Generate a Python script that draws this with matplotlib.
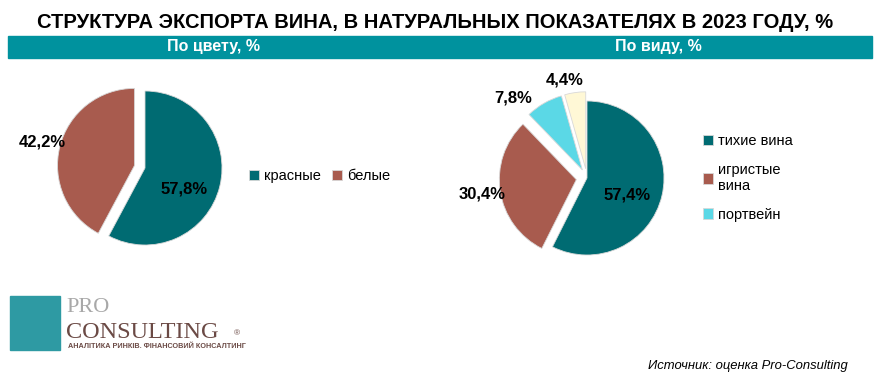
import matplotlib.pyplot as plt
from matplotlib.patches import Rectangle
import numpy as np

# данные
color_labels = ['красные', 'белые']
color_values = [57.8, 42.2]
type_labels = ['тихие вина', 'игристые\nвина', 'портвейн', 'прочее']
type_values = [57.4, 30.4, 7.8, 4.4]

plt.rcParams['font.family'] = ['Liberation Sans', 'DejaVu Sans']

W, H = 880, 380
fig = plt.figure(figsize=(8.8, 3.8), dpi=100)

def px(x, y):
    return x / W, 1 - y / H

# title
fig.text(*px(435, 22), 'СТРУКТУРА ЭКСПОРТА ВИНА, В НАТУРАЛЬНЫХ ПОКАЗАТЕЛЯХ В 2023 ГОДУ, %',
         ha='center', va='center', fontsize=14.5, fontweight='bold')
# teal band
fig.patches.append(Rectangle(px(8, 58), 864 / W, 22 / H, transform=fig.transFigure,
                             color='#00929E', zorder=0))
fig.text(*px(213, 46), 'По цвету, %', ha='center', va='center', color='white',
         fontsize=11.5, fontweight='bold')
fig.text(*px(658, 46), 'По виду, %', ha='center', va='center', color='white',
         fontsize=11.5, fontweight='bold')

cols = ['#006B72', '#A85B4E', '#5BD8E6', '#FFF8D6']
R = 77  # pie radius in px


def pie_axes(cx, cy):
    size = 2.8 * R
    ax = fig.add_axes([(cx - size / 2) / W, 1 - (cy + size / 2) / H, size / W, size / H])
    ax.axis('off')
    return ax


def fix_limits(ax):
    ax.set_xlim(-1.4, 1.4)
    ax.set_ylim(-1.4, 1.4)
    ax.set_aspect('equal')


def put_labels(ax, wedges, vals, rads, shifts):
    for w, v, r, s in zip(wedges, vals, rads, shifts):
        a = np.deg2rad((w.theta1 + w.theta2) / 2 + s)
        ax.text(r * np.cos(a), r * np.sin(a), f'{v:.1f}%'.replace('.', ','),
                ha='center', va='center', fontsize=12, fontweight='bold', clip_on=False)


# left pie
ax1 = pie_axes(145, 168)
w1, _ = ax1.pie(color_values, colors=cols[:2], startangle=90, counterclock=False,
                explode=[0, 0.14], radius=1,
                wedgeprops=dict(edgecolor='#d8d8d8', linewidth=0.6))
fix_limits(ax1)
put_labels(ax1, w1, color_values, [0.58, 1.37], [-14, 0])
fig.legend(w1, color_labels, loc='center left', bbox_to_anchor=px(236, 176), ncol=2,
           frameon=False, fontsize=10.5, handlelength=0.7, handleheight=0.7,
           handletextpad=0.3, columnspacing=0.8)

# right pie
ax2 = pie_axes(587, 178)
w2, _ = ax2.pie(type_values, colors=cols, startangle=90, counterclock=False,
                explode=[0, 0.14, 0.12, 0.12], radius=1,
                wedgeprops=dict(edgecolor='#d8d8d8', linewidth=0.6))
fix_limits(ax2)
put_labels(ax2, w2, type_values, [0.57, 1.38, 1.41, 1.3], [-10, 0, 13, 5])
fig.legend(w2[:3], type_labels[:3], loc='center left', bbox_to_anchor=px(690, 178),
           frameon=False, fontsize=10.5, handlelength=0.7, handleheight=0.7,
           handletextpad=0.3, labelspacing=1.0)

# logo
fig.patches.append(Rectangle(px(10, 350), 50 / W, 54 / H, transform=fig.transFigure,
                             color='#2E9AA3', zorder=1))
fig.text(*px(66, 308), 'PRO', fontsize=16, color='#A8A8A8', family='Liberation Serif',
         va='center')
fig.text(*px(66, 332), 'CONSULTING', fontsize=17.5, color='#6B4A45', family='Liberation Serif',
         va='center')
fig.text(*px(234, 334), '®', fontsize=6, color='#6B4A45', va='center')
fig.text(*px(68, 346), 'АНАЛІТИКА РИНКІВ. ФІНАНСОВИЙ КОНСАЛТИНГ', fontsize=5.2,
         color='#6B4A45', fontweight='bold', va='center')

fig.text(*px(848, 366), 'Источник: оценка Pro-Consulting', ha='right', va='center',
         fontsize=9.4, style='italic')

fig.savefig('out.png', dpi=100)
